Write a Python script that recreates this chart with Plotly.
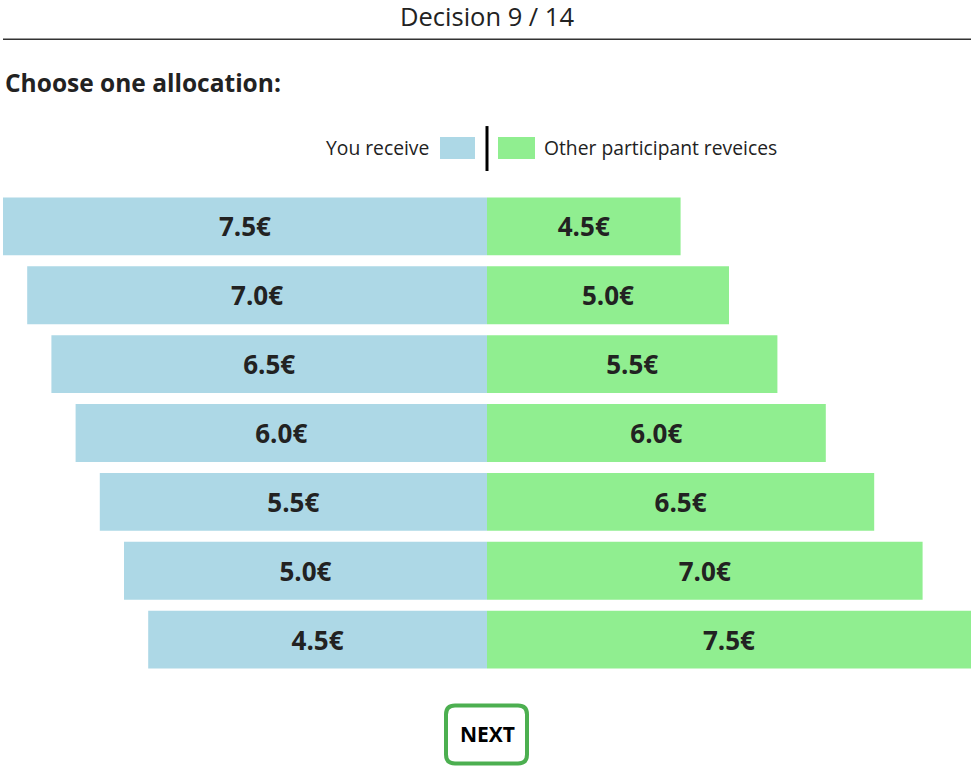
import plotly.graph_objects as go

# ---- data ----
options = ["Option 1", "Option 2", "Option 3", "Option 4", "Option 5", "Option 6", "Option 7"]
you_receive = [7.5, 7.0, 6.5, 6.0, 5.5, 5.0, 4.5]
other_receives = [4.5, 5.0, 5.5, 6.0, 6.5, 7.0, 7.5]
title_text = "Decision 9 / 14"
prompt_text = "Choose one allocation:"
legend_you = "You receive"
legend_other = "Other participant reveices"
button_text = "NEXT"

# ---- styling / layout constants ----
W, H = 974, 769
ML, MR, MT = 3, 3, 192
MB = H - 674.5
PW, PH = W - ML - MR, H - MT - MB
BLUE = "#ADD8E6"
GREEN = "#90EE90"
TXT = "#222222"
FONT = "Open Sans"
BASE_L, BASE_R = -2.5, 2.5  # axis values at the centre line


def px(x):
    return (x - ML) / PW


def py(y):
    return 1 - (y - MT) / PH


center = px(487)

fig = go.Figure()
fig.add_trace(go.Bar(
    y=options, x=[v - BASE_L for v in you_receive], base=BASE_L,
    orientation="h", marker=dict(color=BLUE, line=dict(width=0)),
    text=[f"{v:.1f}€" for v in you_receive], textposition="inside",
    insidetextanchor="middle", textangle=0,
    textfont=dict(family=FONT, size=26, color=TXT, weight="bold"),
    xaxis="x", yaxis="y", showlegend=False, hoverinfo="skip",
))
fig.add_trace(go.Bar(
    y=options, x=[v - BASE_R for v in other_receives], base=BASE_R,
    orientation="h", marker=dict(color=GREEN, line=dict(width=0)),
    text=[f"{v:.1f}€" for v in other_receives], textposition="inside",
    insidetextanchor="middle", textangle=0,
    textfont=dict(family=FONT, size=26, color=TXT, weight="bold"),
    xaxis="x2", yaxis="y", showlegend=False, hoverinfo="skip",
))

shapes = [
    dict(type="line", xref="paper", yref="paper", x0=px(3), x1=px(971), y0=py(39), y1=py(39),
         line=dict(color="#333333", width=1.5)),
    dict(type="rect", xref="paper", yref="paper", x0=px(440), x1=px(475), y0=py(159), y1=py(137),
         fillcolor=BLUE, line=dict(width=0)),
    dict(type="rect", xref="paper", yref="paper", x0=px(498), x1=px(535), y0=py(159), y1=py(137),
         fillcolor=GREEN, line=dict(width=0)),
    dict(type="line", xref="paper", yref="paper", x0=px(487), x1=px(487), y0=py(126), y1=py(171),
         line=dict(color="black", width=3)),
]

bx0, bx1, by0, by1, r = 446, 527, 706, 764, 9
path = (f"M {px(bx0 + r)},{py(by0)} L {px(bx1 - r)},{py(by0)} Q {px(bx1)},{py(by0)} {px(bx1)},{py(by0 + r)} "
        f"L {px(bx1)},{py(by1 - r)} Q {px(bx1)},{py(by1)} {px(bx1 - r)},{py(by1)} "
        f"L {px(bx0 + r)},{py(by1)} Q {px(bx0)},{py(by1)} {px(bx0)},{py(by1 - r)} "
        f"L {px(bx0)},{py(by0 + r)} Q {px(bx0)},{py(by0)} {px(bx0 + r)},{py(by0)} Z")
shapes.append(dict(type="path", xref="paper", yref="paper", path=path,
                   line=dict(color="#4CAF50", width=4), fillcolor="rgba(0,0,0,0)"))

annotations = [
    dict(text=title_text, x=px(487), y=py(16), xref="paper", yref="paper", showarrow=False,
         xanchor="center", yanchor="middle", font=dict(family=FONT, size=25.5, color=TXT)),
    dict(text=f"<b>{prompt_text}</b>", x=px(3), y=py(82), xref="paper", yref="paper", showarrow=False,
         xanchor="left", yanchor="middle", font=dict(family=FONT, size=24.5, color=TXT)),
    dict(text=legend_you, x=px(431), y=py(147), xref="paper", yref="paper", showarrow=False,
         xanchor="right", yanchor="middle", font=dict(family=FONT, size=19.3, color=TXT)),
    dict(text=legend_other, x=px(542), y=py(147), xref="paper", yref="paper", showarrow=False,
         xanchor="left", yanchor="middle", font=dict(family=FONT, size=19.3, color=TXT)),
    dict(text=f"<b>{button_text}</b>", x=px(487), y=py(735), xref="paper", yref="paper", showarrow=False,
         xanchor="center", yanchor="middle", font=dict(family=FONT, size=21, color="black")),
]

fig.update_layout(
    width=W, height=H,
    margin=dict(l=ML, r=MR, t=MT, b=MB, pad=0),
    paper_bgcolor="white", plot_bgcolor="white",
    barmode="overlay", bargap=0.16,
    xaxis=dict(domain=[0, center], range=[7.5, BASE_L], visible=False, fixedrange=True),
    xaxis2=dict(domain=[center, 1], range=[BASE_R, 7.5], visible=False, fixedrange=True),
    yaxis=dict(autorange="reversed", visible=False, fixedrange=True),
    shapes=shapes, annotations=annotations,
    font=dict(family=FONT),
)

fig.write_html(
    "out.html",
    config={"displayModeBar": False},
    post_script="document.body.style.margin='0';document.body.style.overflow='hidden';",
)
